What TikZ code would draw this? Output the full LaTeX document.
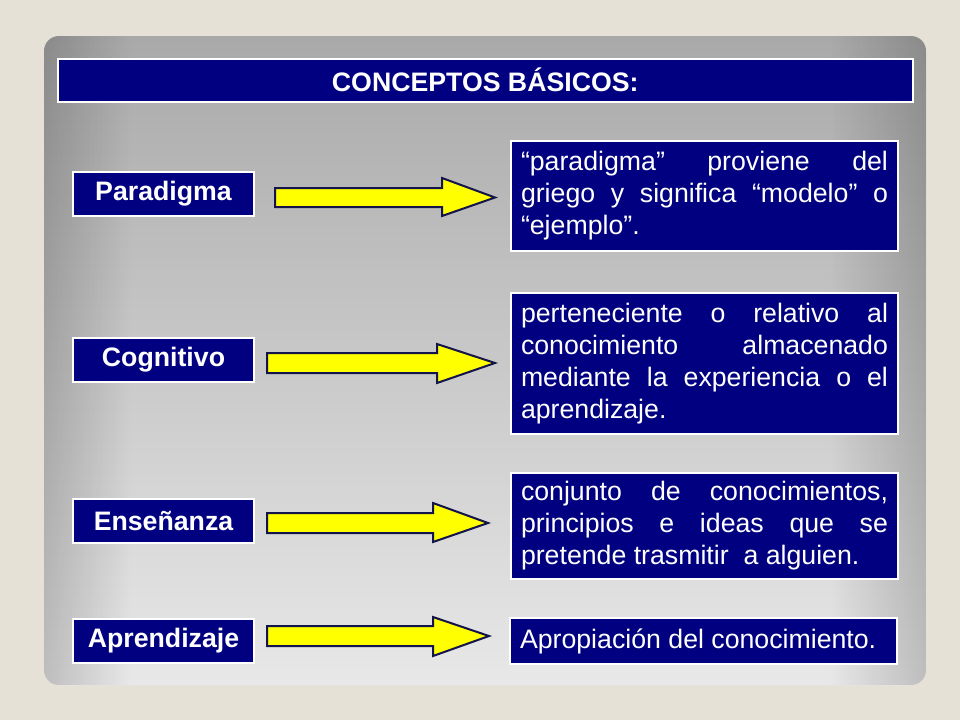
\documentclass[tikz,border=0pt]{standalone}
\usepackage{fontspec}
\setmainfont{Liberation Sans}
\usetikzlibrary{fadings}
\definecolor{bgbeige}{HTML}{E6E1D7}
\definecolor{navybox}{HTML}{000080}
\definecolor{arrowedge}{HTML}{14144C}
\definecolor{arrowfill}{HTML}{FFFF00}
\definecolor{paneltop}{HTML}{A9A9A9}
\definecolor{panelbot}{HTML}{E8E8E8}
\tikzfading[name=fadeR, left color=transparent!0, right color=transparent!100]
\tikzfading[name=fadeL, left color=transparent!100, right color=transparent!0]
\tikzset{
  titlebar/.style={fill=navybox, draw=white, line width=1.5pt, inner sep=0pt,
    minimum width=855pt, minimum height=43pt, anchor=north west,
    text=white, font=\fontsize{26.7}{32}\selectfont\bfseries},
  termbox/.style={fill=navybox, draw=white, line width=2pt, inner sep=0pt,
    minimum width=181pt, minimum height=44pt, anchor=north west,
    text=white, font=\fontsize{26.7}{32}\selectfont\bfseries},
  defbox/.style={fill=navybox, draw=white, line width=2pt, inner xsep=10pt, inner ysep=0pt,
    text width=367pt, align=left, anchor=north west,
    text=white, font=\fontsize{26.7}{32}\selectfont},
  blockarrow/.style={fill=arrowfill, draw=arrowedge, line width=2pt, line join=miter}
}
\newcommand{\jline}[1]{\hbox to 367pt{\spaceskip=0.278em plus 10em\relax #1}}
\newcommand{\pline}[1]{\hbox{\spaceskip=0.278em\relax #1}}
\begin{document}
\begin{tikzpicture}[x=1pt, y=-1pt]
\useasboundingbox (0,0) rectangle (960,720);
\fill[bgbeige] (0,0) rectangle (960,720);
% panel
\shade[top color=paneltop, bottom color=panelbot, rounded corners=15pt] (44,36) rectangle (926,685);
\begin{scope}
  \clip[rounded corners=15pt] (44,36) rectangle (926,685);
  \fill[black, path fading=fadeR, fill opacity=0.18] (44,36) rectangle (130,685);
  \fill[black, path fading=fadeL, fill opacity=0.18] (830,36) rectangle (926,685);
\end{scope}
% title
\node[titlebar] (title) at (57,58) {CONCEPTOS BÁSICOS:};
% terms
\node[termbox] (t1) at (72,171) {Paradigma};
\node[termbox] (t2) at (72,337) {Cognitivo};
\node[termbox] (t3) at (72,498) {Enseñanza};
\node[termbox] (t4) at (72,618) {Aprendizaje};
% definitions
\node[defbox, minimum height=110pt] (d1) at (510,140) {%
\jline{“paradigma” proviene del}
\jline{griego y significa “modelo” o}
\pline{“ejemplo”.}};
\node[defbox, minimum height=141pt] (d2) at (510,292) {%
\jline{perteneciente o relativo al}
\jline{conocimiento almacenado}
\jline{mediante la experiencia o el}
\pline{aprendizaje.}};
\node[defbox, minimum height=106pt] (d3) at (510,472) {%
\jline{conjunto de conocimientos,}
\jline{principios e ideas que se}
\pline{pretende trasmitir \ a alguien.}};
\node[defbox, minimum height=46pt] (d4) at (509,617) {\pline{Apropiación del conocimiento.}};
% arrows
\draw[blockarrow] (275,188) -- (442,188) -- (442,178) -- (495,197.5) -- (442,216) -- (442,207) -- (275,207) -- cycle;
\draw[blockarrow] (267,353) -- (437,353) -- (437,344) -- (495,363) -- (437,383) -- (437,373) -- (267,373) -- cycle;
\draw[blockarrow] (267,513) -- (433,513) -- (433,503) -- (488,523) -- (433,542) -- (433,533) -- (267,533) -- cycle;
\draw[blockarrow] (267,626) -- (433,626) -- (433,617) -- (489,636) -- (433,656) -- (433,646) -- (267,646) -- cycle;
\end{tikzpicture}
\end{document}
